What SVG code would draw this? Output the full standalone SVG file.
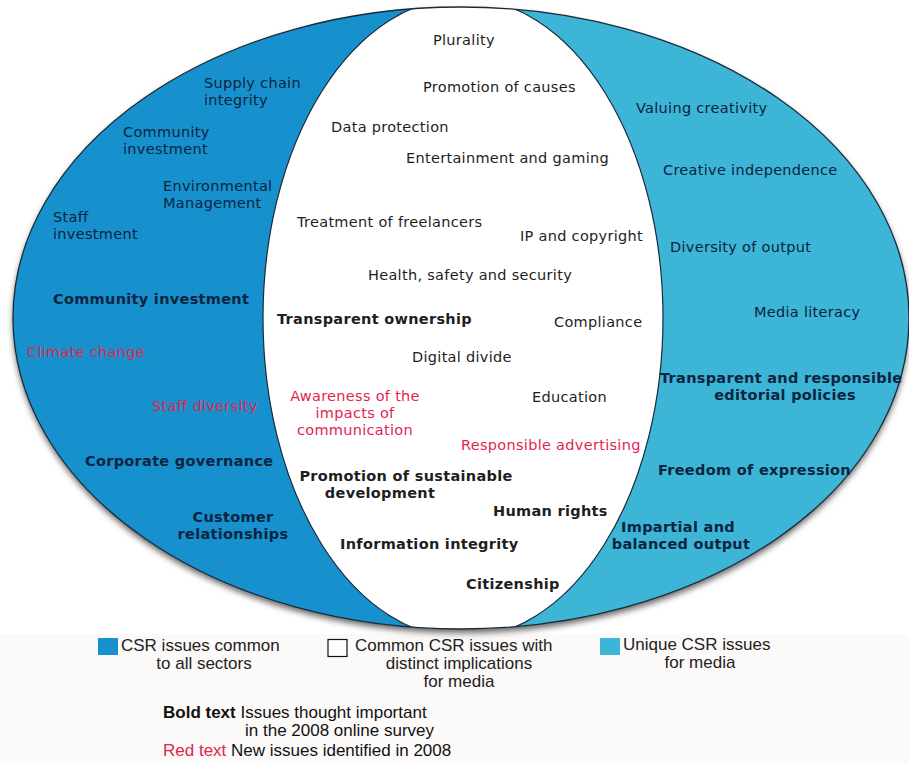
<svg xmlns="http://www.w3.org/2000/svg" width="909" height="763" viewBox="0 0 909 763">
<defs>
<style>
.t{font-family:"DejaVu Sans",Verdana,sans-serif;font-size:14.5px;letter-spacing:0.3px}
.b{font-weight:bold}
.nv{fill:#0b2440}
.dk{fill:#1e1e1e}
.rd{fill:#e3244f}
.lg{font-family:"Liberation Sans",Arial,sans-serif;font-size:17px;fill:#222}
.lg2{font-family:"Liberation Sans",Arial,sans-serif;font-size:17px;fill:#111}
.mid{text-anchor:middle}
</style>
<filter id="sh" x="-5%" y="-5%" width="110%" height="115%">
<feDropShadow dx="0" dy="4" stdDeviation="3" flood-color="#000" flood-opacity="0.6"/>
</filter>
<clipPath id="leftclip"><rect x="0" y="0" width="463" height="763"/></clipPath>
<clipPath id="outerclip"><ellipse cx="461" cy="318" rx="448" ry="311"/></clipPath>
</defs>
<rect x="0" y="0" width="909" height="763" fill="#ffffff"/>
<rect x="0" y="634" width="909" height="129" fill="#fcf9f9"/>

<g id="venn">
<ellipse cx="461" cy="318" rx="448" ry="311" fill="#3cb5d7" filter="url(#sh)"/>
<ellipse cx="461" cy="318" rx="448" ry="311" fill="#1791ce" clip-path="url(#leftclip)"/>
<g clip-path="url(#outerclip)">
<ellipse cx="463" cy="318" rx="200" ry="320" fill="#ffffff" stroke="#1b2a38" stroke-width="1.2"/>
</g>
<ellipse cx="461" cy="318" rx="448" ry="311" fill="none" stroke="#1b2a38" stroke-width="1.3"/>
</g>

<g id="left-issues">
<text class="t nv" x="204" y="88">Supply chain</text>
<text class="t nv" x="204" y="105">integrity</text>
<text class="t nv" x="123" y="137">Community</text>
<text class="t nv" x="123" y="154">investment</text>
<text class="t nv" x="163" y="191">Environmental</text>
<text class="t nv" x="163" y="208">Management</text>
<text class="t nv" x="53" y="222">Staff</text>
<text class="t nv" x="53" y="239">investment</text>
<text class="t nv b" x="53" y="304">Community investment</text>
<text class="t rd" x="27" y="357">Climate change</text>
<text class="t rd" x="152" y="411">Staff diversity</text>
<text class="t nv b" x="85" y="466">Corporate governance</text>
<text class="t nv b mid" x="233" y="522">Customer</text>
<text class="t nv b mid" x="233" y="539">relationships</text>
</g>

<g id="common-issues">
<text class="t dk" x="433" y="45">Plurality</text>
<text class="t dk" x="423" y="92">Promotion of causes</text>
<text class="t dk" x="331" y="132">Data protection</text>
<text class="t dk" x="406" y="163">Entertainment and gaming</text>
<text class="t dk" x="297" y="227">Treatment of freelancers</text>
<text class="t dk" x="520" y="241">IP and copyright</text>
<text class="t dk" x="368" y="280">Health, safety and security</text>
<text class="t dk b" x="277" y="324">Transparent ownership</text>
<text class="t dk" x="554" y="327">Compliance</text>
<text class="t dk" x="412" y="362">Digital divide</text>
<text class="t rd mid" x="355" y="401">Awareness of the</text>
<text class="t rd mid" x="355" y="418">impacts of</text>
<text class="t rd mid" x="355" y="435">communication</text>
<text class="t dk" x="532" y="402">Education</text>
<text class="t rd" x="461" y="450">Responsible advertising</text>
<text class="t dk b mid" x="406" y="481">Promotion of sustainable</text>
<text class="t dk b mid" x="380" y="498">development</text>
<text class="t dk b" x="493" y="516">Human rights</text>
<text class="t dk b" x="340" y="549">Information integrity</text>
<text class="t dk b" x="466" y="589">Citizenship</text>
</g>

<g id="media-issues">
<text class="t nv" x="636" y="113">Valuing creativity</text>
<text class="t nv" x="663" y="175">Creative independence</text>
<text class="t nv" x="670" y="252">Diversity of output</text>
<text class="t nv" x="754" y="317">Media literacy</text>
<text class="t nv b" x="660" y="383">Transparent and responsible</text>
<text class="t nv b mid" x="785" y="400">editorial policies</text>
<text class="t nv b" x="658" y="475">Freedom of expression</text>
<text class="t nv b mid" x="678" y="532">Impartial and</text>
<text class="t nv b mid" x="681" y="549">balanced output</text>
</g>

<g id="legend">
<rect x="98" y="638" width="20" height="17" fill="#1791ce"/>
<text class="lg" x="121" y="651">CSR issues common</text>
<text class="lg mid" x="204" y="669">to all sectors</text>
<rect x="328" y="639.5" width="19" height="17" fill="#ffffff" stroke="#111" stroke-width="1.2"/>
<text class="lg" x="355" y="651">Common CSR issues with</text>
<text class="lg mid" x="459" y="669">distinct implications</text>
<text class="lg mid" x="459" y="687">for media</text>
<rect x="600" y="638" width="20" height="17" fill="#3cb5d7"/>
<text class="lg" x="623" y="650">Unique CSR issues</text>
<text class="lg mid" x="700" y="668">for media</text>
<text class="lg2" x="163" y="718"><tspan font-weight="bold">Bold text</tspan> Issues thought important</text>
<text class="lg2" x="245" y="736">in the 2008 online survey</text>
<text class="lg2" x="163" y="756"><tspan fill="#e3244f">Red text</tspan> New issues identified in 2008</text>
</g>
</svg>
